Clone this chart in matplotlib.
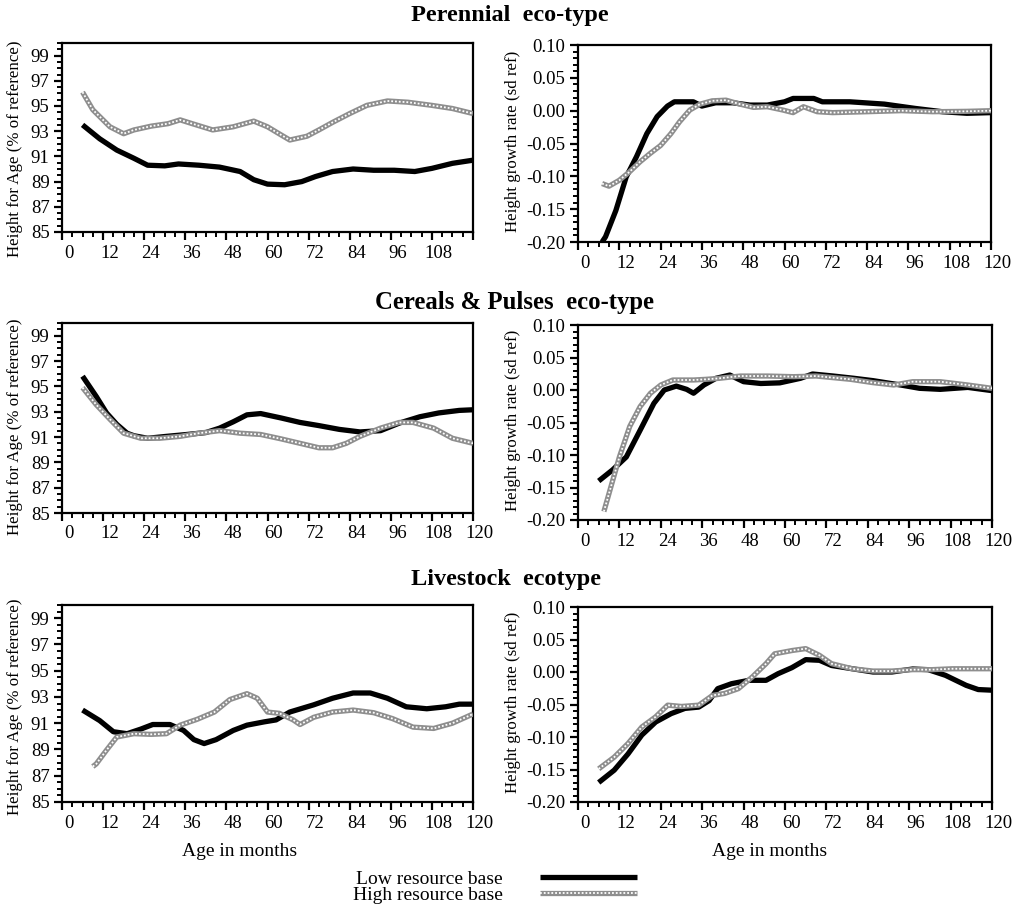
import matplotlib
matplotlib.use("Agg")
import matplotlib.pyplot as plt
from matplotlib.ticker import MultipleLocator, FixedLocator, FixedFormatter
from matplotlib.transforms import ScaledTranslation

plt.rcParams['font.family'] = ['Liberation Serif', 'DejaVu Serif']
plt.rcParams['axes.unicode_minus'] = False

# ---------------- data ----------------
titles = ["Perennial  eco-type", "Cereals & Pulses  eco-type", "Livestock  ecotype"]
series_labels = ["Low resource base", "High resource base"]
ylabel_left = "Height for Age (% of reference)"
ylabel_right = "Height growth rate (sd ref)"
xlabel = "Age in months"

# Perennial - height for age
per_hfa_low_x = [6, 11, 16, 21, 25, 30, 34, 40, 46, 52, 56, 60, 65, 70, 74, 79, 85, 91, 97, 103, 108, 114, 120]
per_hfa_low_y = [93.5, 92.4, 91.5, 90.85, 90.3, 90.25, 90.4, 90.3, 90.15, 89.8, 89.15, 88.8, 88.75, 89.0, 89.4, 89.8, 90.0, 89.9, 89.9, 89.8, 90.05, 90.45, 90.7]
per_hfa_high_x = [6, 9, 14, 18, 21, 26, 31, 34.5, 38, 44, 50, 56, 60, 64, 66.5, 71.5, 75, 79, 84, 89, 95, 101, 108, 114, 120]
per_hfa_high_y = [96.1, 94.7, 93.35, 92.8, 93.1, 93.4, 93.6, 93.9, 93.6, 93.1, 93.35, 93.8, 93.35, 92.7, 92.3, 92.6, 93.1, 93.7, 94.4, 95.05, 95.4, 95.3, 95.05, 94.8, 94.4]

# Perennial - growth rate
per_gr_low_x = [7, 8, 11, 14, 17, 20, 23, 26, 28, 33.5, 36, 40, 45, 50, 55, 60, 62.5, 68.5, 71, 79, 89, 98, 106, 113, 120]
per_gr_low_y = [-0.20, -0.192, -0.152, -0.101, -0.070, -0.035, -0.009, 0.007, 0.0135, 0.0135, 0.007, 0.012, 0.012, 0.0085, 0.0085, 0.0135, 0.0186, 0.0186, 0.0135, 0.0135, 0.010, 0.0034, -0.0017, -0.004, -0.003]
per_gr_high_x = [7, 9, 12, 15, 18, 21, 24, 27, 29.5, 32.5, 35.5, 39, 43, 47, 51, 55, 59.5, 62.5, 65.5, 69.5, 74, 84, 94, 103, 113, 120]
per_gr_high_y = [-0.111, -0.115, -0.106, -0.093, -0.078, -0.065, -0.053, -0.035, -0.017, 0.001, 0.010, 0.015, 0.016, 0.010, 0.005, 0.006, 0.001, -0.003, 0.006, -0.0016, -0.003, -0.0016, 0.0, -0.0016, -0.001, 0.0]

# Cereals & Pulses - height for age
cer_hfa_low_x = [6, 10, 13, 16, 19, 21, 25, 30.5, 36.5, 42, 46, 50, 54, 58, 64, 69.5, 75, 81, 87, 93, 98.5, 104.5, 110, 116, 120]
cer_hfa_low_y = [95.8, 94.2, 92.9, 92.0, 91.3, 91.1, 90.9, 91.05, 91.2, 91.35, 91.7, 92.2, 92.75, 92.85, 92.5, 92.15, 91.9, 91.6, 91.4, 91.5, 92.1, 92.6, 92.9, 93.1, 93.15]
cer_hfa_high_x = [6, 10, 14, 18, 23, 28.5, 34.5, 40, 46, 52, 58, 64, 69.5, 75, 79, 83, 87, 93, 98.5, 102.5, 108.5, 114, 120]
cer_hfa_high_y = [94.9, 93.55, 92.4, 91.3, 90.9, 90.9, 91.05, 91.3, 91.5, 91.3, 91.2, 90.85, 90.5, 90.15, 90.15, 90.5, 91.05, 91.7, 92.15, 92.15, 91.7, 90.9, 90.5]

# Cereals & Pulses - growth rate
cer_gr_low_x = [6, 10, 14, 18, 22, 25, 28.5, 31.5, 33.5, 36.5, 40, 44, 48, 53, 58.5, 64.5, 68, 74, 80, 85.5, 93.5, 99, 105, 113, 120]
cer_gr_low_y = [-0.140, -0.123, -0.103, -0.062, -0.0205, 0.0, 0.006, 0.001, -0.005, 0.0077, 0.018, 0.023, 0.0128, 0.010, 0.011, 0.018, 0.0246, 0.0215, 0.018, 0.0144, 0.0077, 0.0026, 0.001, 0.004, -0.001]
cer_gr_high_x = [7.5, 9, 12, 15, 18, 21, 24, 27.5, 33.5, 37, 41, 47, 55, 62.5, 69, 79, 85.5, 91.5, 97, 105, 113, 120]
cer_gr_high_y = [-0.187, -0.159, -0.103, -0.056, -0.0256, -0.005, 0.0077, 0.0154, 0.0154, 0.0164, 0.018, 0.0215, 0.0215, 0.0205, 0.0215, 0.0164, 0.0113, 0.0077, 0.0128, 0.0128, 0.0077, 0.0026]

# Livestock - height for age
liv_hfa_low_x = [6, 11, 15, 19, 23, 26.5, 31.5, 35.5, 38.5, 41.5, 45, 50, 54, 59, 62.5, 66.5, 73.5, 79, 85, 90, 95, 100.5, 106.5, 112, 116, 120]
liv_hfa_low_y = [92.0, 91.2, 90.35, 90.2, 90.55, 90.9, 90.9, 90.45, 89.75, 89.45, 89.75, 90.45, 90.85, 91.1, 91.25, 91.85, 92.4, 92.9, 93.3, 93.3, 92.9, 92.25, 92.1, 92.25, 92.45, 92.45]
liv_hfa_high_x = [9, 10, 13, 16, 21, 26, 30.5, 34.5, 39.5, 44.5, 49, 54, 57, 60, 63.5, 67.5, 69.5, 73.5, 79, 85, 91, 96.5, 102.5, 108.5, 114, 120]
liv_hfa_high_y = [87.7, 87.9, 88.95, 89.95, 90.2, 90.15, 90.2, 90.85, 91.3, 91.85, 92.8, 93.25, 92.9, 91.85, 91.75, 91.25, 90.9, 91.45, 91.85, 92.0, 91.8, 91.35, 90.7, 90.6, 91.0, 91.7]

# Livestock - growth rate
liv_gr_low_x = [6, 10.5, 14.5, 18.5, 22.5, 27, 31, 35, 38, 40.5, 44.5, 49.5, 54.5, 58, 62, 66, 70, 73.5, 79.5, 85.5, 91, 97, 101.5, 106.5, 112.5, 116, 120]
liv_gr_low_y = [-0.170, -0.151, -0.126, -0.097, -0.077, -0.064, -0.056, -0.054, -0.044, -0.0256, -0.018, -0.0128, -0.0128, -0.0026, 0.0067, 0.019, 0.018, 0.010, 0.005, 0.0, 0.0, 0.0046, 0.0036, -0.0051, -0.0205, -0.027, -0.028]
liv_gr_high_x = [6, 10.5, 14.5, 18.5, 22.5, 26, 30, 35, 39, 42.5, 46.5, 50.5, 54.5, 57, 62, 66, 70, 73.5, 79.5, 85.5, 91, 97, 102.5, 108.5, 114, 120]
liv_gr_high_y = [-0.149, -0.131, -0.110, -0.0846, -0.069, -0.051, -0.053, -0.051, -0.036, -0.033, -0.0256, -0.0077, 0.0128, 0.028, 0.033, 0.036, 0.0256, 0.0128, 0.005, 0.0015, 0.0015, 0.0036, 0.0036, 0.005, 0.005, 0.005]

x_ticks_full = [0, 12, 24, 36, 48, 60, 72, 84, 96, 108, 120]
x_ticks_short = [0, 12, 24, 36, 48, 60, 72, 84, 96, 108]
hfa_ticks = [85, 87, 89, 91, 93, 95, 97, 99]
gr_ticks = [-0.20, -0.15, -0.10, -0.05, 0.00, 0.05, 0.10]

# ---------------- figure ----------------
W, H = 1021, 907
fig = plt.figure(figsize=(W / 100, H / 100), dpi=100)


def rect(x0, x1, y0, y1):
    return [x0 / W, 1 - y1 / H, (x1 - x0) / W, (y1 - y0) / H]


LOW_KW = dict(color="black", lw=3.8, solid_capstyle="butt", zorder=3)
HIGH_BASE_KW = dict(color="#8e8e8e", lw=3.8, solid_capstyle="butt", zorder=4)
HIGH_TOP_KW = dict(color="white", lw=1.3, linestyle=(0, (1.0, 1.1)), zorder=5)

shift = ScaledTranslation(0.065, 0, fig.dpi_scale_trans)


def style_axes(ax, kind, xticks):
    ax.set_xlim(0, 120)
    ax.xaxis.set_major_locator(FixedLocator(x_ticks_full))
    ax.xaxis.set_major_formatter(FixedFormatter([str(t) if t in xticks else "" for t in x_ticks_full]))
    ax.xaxis.set_minor_locator(MultipleLocator(3))
    if kind == "hfa":
        ax.set_ylim(85, 100)
        ax.yaxis.set_major_locator(FixedLocator(hfa_ticks))
        ax.yaxis.set_major_formatter(FixedFormatter([str(t) for t in hfa_ticks]))
        ax.yaxis.set_minor_locator(MultipleLocator(0.5))
        ax.set_ylabel(ylabel_left, fontsize=12.2)
    else:
        ax.set_ylim(-0.20, 0.10)
        ax.yaxis.set_major_locator(FixedLocator(gr_ticks))
        ax.yaxis.set_major_formatter(FixedFormatter(["%.2f" % t for t in gr_ticks]))
        ax.yaxis.set_minor_locator(MultipleLocator(0.01))
        ax.set_ylabel(ylabel_right, fontsize=12.2)
    for s in ax.spines.values():
        s.set_linewidth(1.6)
    ax.tick_params(which="major", direction="out", length=6, width=1.6, labelsize=13.5, pad=3)
    ax.tick_params(which="minor", direction="out", length=3.5, width=1.4)
    ax.tick_params(top=False, right=False, which="both")
    for lab in ax.get_xticklabels():
        lab.set_transform(lab.get_transform() + shift)


panels = [
    (rect(62, 473, 43, 232), "hfa", per_hfa_low_x, per_hfa_low_y, per_hfa_high_x, per_hfa_high_y, x_ticks_short),
    (rect(578, 991, 45, 242), "gr", per_gr_low_x, per_gr_low_y, per_gr_high_x, per_gr_high_y, x_ticks_full),
    (rect(62, 473, 323, 513), "hfa", cer_hfa_low_x, cer_hfa_low_y, cer_hfa_high_x, cer_hfa_high_y, x_ticks_full),
    (rect(578, 992, 325, 520), "gr", cer_gr_low_x, cer_gr_low_y, cer_gr_high_x, cer_gr_high_y, x_ticks_full),
    (rect(62, 473, 605, 802), "hfa", liv_hfa_low_x, liv_hfa_low_y, liv_hfa_high_x, liv_hfa_high_y, x_ticks_full),
    (rect(578, 992, 607, 802), "gr", liv_gr_low_x, liv_gr_low_y, liv_gr_high_x, liv_gr_high_y, x_ticks_full),
]

axes = []
handles = None
for pos, kind, lx, ly, hx, hy, xt in panels:
    ax = fig.add_axes(pos)
    l_low, = ax.plot(lx, ly, **LOW_KW)
    l_hb, = ax.plot(hx, hy, **HIGH_BASE_KW)
    l_ht, = ax.plot(hx, hy, **HIGH_TOP_KW)
    style_axes(ax, kind, xt)
    axes.append(ax)
    if handles is None:
        handles = [l_low, (l_hb, l_ht)]

# y label placement (right edge of rotated text, vertical centre)
left_label_y = [0.44, 0.455, 0.485]
for i, ax in enumerate(axes):
    if i % 2 == 0:
        ax.yaxis.set_label_coords(-39 / 411, left_label_y[i // 2])
    else:
        ax.yaxis.set_label_coords(-57 / 413, 0.51)

# titles
fig.text(510 / W, 1 - 15 / H, titles[0], ha="center", va="center", fontsize=17.5, fontweight="bold")
fig.text(514 / W, 1 - 302 / H, titles[1], ha="center", va="center", fontsize=17.8, fontweight="bold")
fig.text(506 / W, 1 - 580 / H, titles[2], ha="center", va="center", fontsize=17.5, fontweight="bold")

# x labels
fig.text(240 / W, 1 - 852 / H, xlabel, ha="center", va="center", fontsize=14)
fig.text(770 / W, 1 - 852 / H, xlabel, ha="center", va="center", fontsize=14)

# legend
fig.legend(handles, series_labels, loc="upper right", bbox_to_anchor=(637 / W, 1 - 870 / H),
           frameon=False, markerfirst=False, fontsize=14, handlelength=5.0,
           handletextpad=1.9, labelspacing=-0.05, borderpad=0, borderaxespad=0)

fig.savefig("out.png", dpi=100)
